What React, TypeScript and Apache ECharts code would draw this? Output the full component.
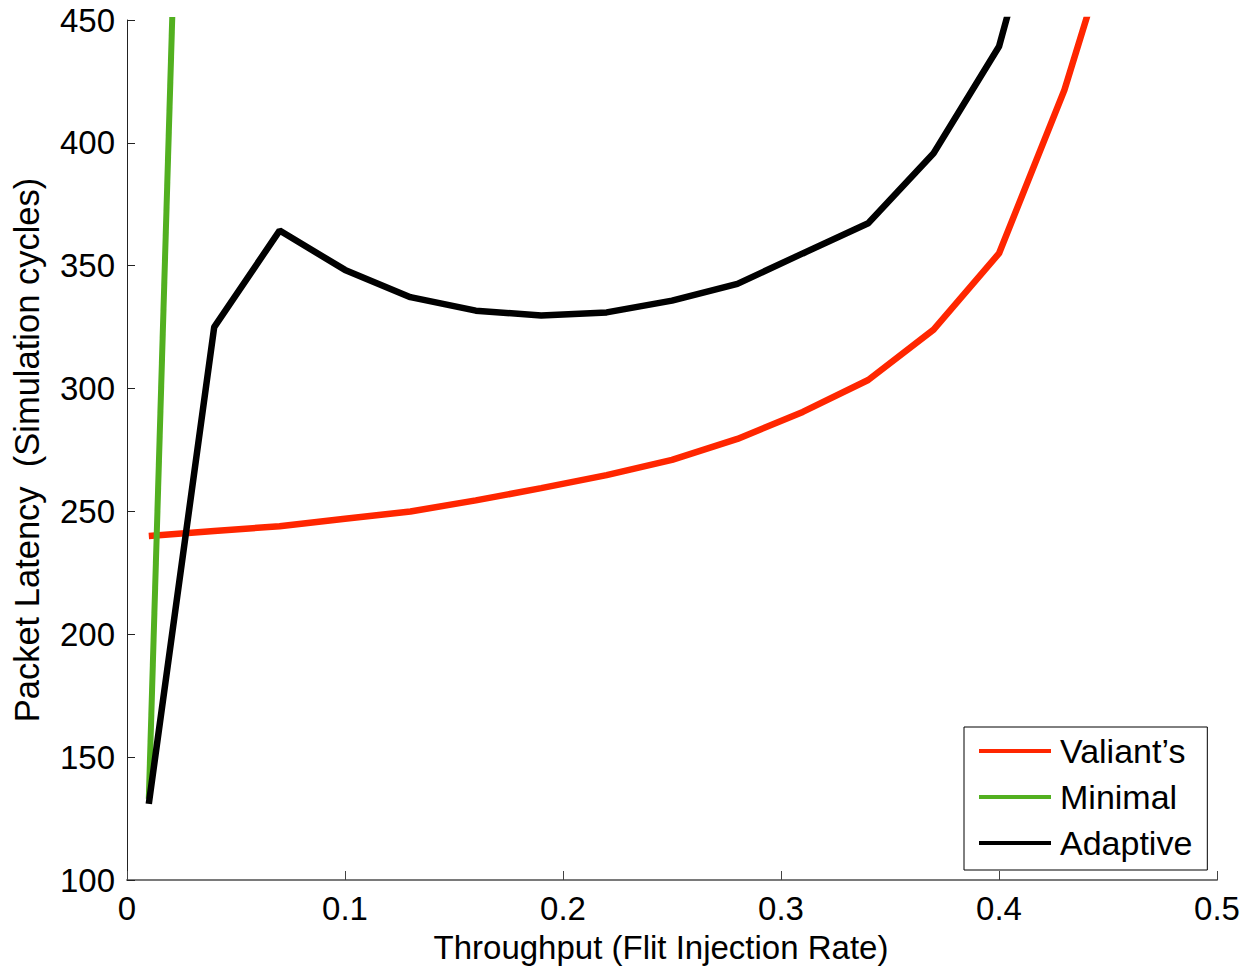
import React, { useEffect, useRef } from "react";
import * as echarts from "echarts";

const throughputValiant = [0.01, 0.04, 0.07, 0.1, 0.13, 0.16, 0.19, 0.22, 0.25, 0.28, 0.31, 0.34, 0.37, 0.4, 0.43, 0.46];
const latencyValiant = [240, 242, 244, 247, 250, 254.5, 259.5, 264.8, 271, 279.5, 290.5, 303.5, 324, 355, 421.5, 508];

const throughputMinimal = [0.01, 0.04];
const latencyMinimal = [133, 1020];

const throughputAdaptive = [0.01, 0.04, 0.07, 0.1, 0.13, 0.16, 0.19, 0.22, 0.25, 0.28, 0.31, 0.34, 0.37, 0.4, 0.43];
const latencyAdaptive = [131, 325, 364.3, 348.3, 337.2, 331.7, 329.7, 331, 335.8, 342.6, 355, 367.3, 395.8, 439.2, 536];

const xTicks = [0, 0.1, 0.2, 0.3, 0.4, 0.5];
const yTicks = [100, 150, 200, 250, 300, 350, 400, 450];

const FONT = "'Liberation Sans', Arial, Helvetica, sans-serif";

function pairs(xs: number[], ys: number[]) {
  return xs.map((x, i) => [x, ys[i]]);
}

export default function App() {
  const ref = useRef<HTMLDivElement>(null);
  useEffect(() => {
    if (!ref.current) return;
    const chart = echarts.init(ref.current, null, { renderer: "svg" });
    chart.setOption({
      animation: false,
      backgroundColor: "#ffffff",
      grid: { left: 127, right: 30, top: 20, bottom: 90, containLabel: false, outerBoundsMode: "none" },
      xAxis: {
        type: "value",
        min: xTicks[0],
        max: xTicks[xTicks.length - 1],
        interval: 0.1,
        name: "Throughput (Flit Injection Rate)",
        nameLocation: "middle",
        nameGap: 51,
        nameTextStyle: { fontFamily: FONT, fontSize: 33, color: "#000", padding: [0, 22, 0, 0] },
        axisLine: { show: true, lineStyle: { color: "#7a7a7a", width: 2 } },
        axisTick: { show: true, inside: true, length: 9, lineStyle: { color: "#444", width: 1 } },
        axisLabel: {
          fontFamily: FONT,
          fontSize: 33,
          color: "#000",
          margin: 12,
          formatter: (v: number) => (v === 0 ? "0" : String(Math.round(v * 10) / 10)),
        },
        splitLine: { show: false },
      },
      yAxis: {
        type: "value",
        min: yTicks[0],
        max: yTicks[yTicks.length - 1],
        interval: 50,
        name: "Packet Latency  (Simulation cycles)",
        nameLocation: "middle",
        nameGap: 83,
        nameTextStyle: { fontFamily: FONT, fontSize: 34.5, color: "#000" },
        axisLine: { show: true, lineStyle: { color: "#222", width: 1 } },
        axisTick: { show: true, inside: true, length: 8, lineStyle: { color: "#222", width: 1 } },
        axisLabel: { fontFamily: FONT, fontSize: 33, color: "#000", margin: 12 },
        splitLine: { show: false },
      },
      legend: {
        orient: "vertical",
        left: 964,
        top: 727,
        width: 242,
        padding: [7, 15, 10, 15],
        itemGap: 12,
        itemWidth: 72,
        itemHeight: 4,
        icon: "rect",
        borderColor: "#000",
        borderWidth: 1,
        backgroundColor: "#fff",
        textStyle: { fontFamily: FONT, fontSize: 34, color: "#000", lineHeight: 34, padding: [0, 0, 0, 4] },
        data: ["Valiant’s", "Minimal", "Adaptive"],
      },
      series: [
        {
          name: "Valiant’s",
          type: "line",
          data: pairs(throughputValiant, latencyValiant),
          showSymbol: false,
          symbol: "none",
          clip: true,
          lineStyle: { color: "#ff2600", width: 6.5 },
          itemStyle: { color: "#ff2600" },
        },
        {
          name: "Minimal",
          type: "line",
          data: pairs(throughputMinimal, latencyMinimal),
          showSymbol: false,
          symbol: "none",
          clip: true,
          lineStyle: { color: "#52b020", width: 6 },
          itemStyle: { color: "#52b020" },
        },
        {
          name: "Adaptive",
          type: "line",
          data: pairs(throughputAdaptive, latencyAdaptive),
          showSymbol: false,
          symbol: "none",
          clip: true,
          lineStyle: { color: "#000000", width: 6.5 },
          itemStyle: { color: "#000000" },
        },
      ],
    });
    return () => chart.dispose();
  }, []);
  return (
    <div
      ref={ref}
      style={{ position: "fixed", left: 0, top: 0, width: 1247, height: 970, background: "#fff" }}
    />
  );
}
